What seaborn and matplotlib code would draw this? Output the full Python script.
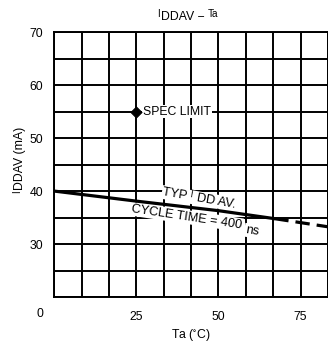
import numpy as np
import pandas as pd
import matplotlib
matplotlib.use("Agg")
import matplotlib.pyplot as plt
from matplotlib.ticker import MultipleLocator, FixedLocator
import seaborn as sns

# Typical average supply current vs ambient temperature
typ_ta = [0, 25, 50, 67]
typ_idd = [40.0, 38.1, 36.3, 34.8]
ext_ta = [67, 85]
ext_idd = [34.8, 33.1]

# Specification limit point
spec_ta = [25]
spec_idd = [55]

x_labels = [25, 50, 75]
y_labels = [30, 40, 50, 60, 70]

sns.set_theme(style="white")
plt.rcParams["font.family"] = ["Liberation Sans", "DejaVu Sans"]
plt.rcParams["mathtext.fontset"] = "custom"
plt.rcParams["mathtext.rm"] = "Liberation Sans"
plt.rcParams["text.color"] = "black"
plt.rcParams["axes.labelcolor"] = "black"

FS = 8.8
CURVE_FS = 9.2
SMALL = 7.2

fig = plt.figure(figsize=(3.28, 3.45), dpi=100)
ax = fig.add_axes([0.165, 0.139, 0.835, 0.768])

solid = pd.DataFrame({"ta": typ_ta, "idd": typ_idd})
dashed = pd.DataFrame({"ta": ext_ta, "idd": ext_idd})
spec = pd.DataFrame({"ta": spec_ta, "idd": spec_idd})

sns.lineplot(data=solid, x="ta", y="idd", ax=ax, color="black", lw=2.3, zorder=4)
sns.lineplot(data=dashed, x="ta", y="idd", ax=ax, color="black", lw=2.3,
             zorder=4)
ax.lines[-1].set_dashes([4.5, 2.2])
sns.scatterplot(data=spec, x="ta", y="idd", ax=ax, color="black", s=34,
                marker="D", edgecolor="black", zorder=5)

ax.set_xlim(0, 250 / 3)
ax.set_ylim(20, 70)

ax.xaxis.set_major_locator(FixedLocator(x_labels))
ax.xaxis.set_minor_locator(MultipleLocator(25 / 3))
ax.yaxis.set_major_locator(FixedLocator(y_labels))
ax.yaxis.set_minor_locator(MultipleLocator(5))
ax.grid(True, which="both", color="black", lw=1.4)
ax.set_axisbelow(True)
ax.tick_params(which="both", length=0, labelsize=FS, colors="black")
ax.tick_params(axis="x", pad=10)
ax.tick_params(axis="y", pad=8)
for s in ax.spines.values():
    s.set_color("black")
    s.set_linewidth(1.4)
ax.set_xlabel("")
ax.set_ylabel("")

# shared origin label at the corner
ax.annotate("0", xy=(0, 0), xycoords="axes fraction", xytext=(-14, -17),
            textcoords="offset pixels", ha="center", va="center", fontsize=FS)

# title: small raised "I", then "DDAV -", then raised "Ta"
title = ax.text(0.471, 1.058, "DDAV \u2212", transform=ax.transAxes,
                ha="center", va="center", fontsize=FS)
ax.annotate("I", xy=(0, 1), xycoords=title, xytext=(-1, 2),
            textcoords="offset pixels", ha="right", va="top", fontsize=SMALL)
ax.annotate("Ta", xy=(1, 1), xycoords=title, xytext=(3, 2),
            textcoords="offset pixels", ha="left", va="top", fontsize=SMALL)

# axis labels
ax.text(0.5, -0.145, r"Ta ($\mathregular{^{\circ}}$C)", transform=ax.transAxes,
        ha="center", va="center", fontsize=FS)
ylab = ax.text(-0.124, 0.525, "DDAV (mA)", transform=ax.transAxes,
               rotation=90, ha="center", va="center", fontsize=FS)
ax.annotate("I", xy=(0, 0), xycoords=ylab, xytext=(-2, -1),
            textcoords="offset pixels", ha="left", va="top", rotation=90,
            fontsize=SMALL)

box = dict(facecolor="white", edgecolor="none", pad=0.6)
ax.text(27.0, 55, "SPEC LIMIT", ha="left", va="center", fontsize=FS,
        bbox=box, zorder=3)

# curve annotations
ax.text(44.2, 38.6, "TYP   DD AV.", ha="center", va="center",
        fontsize=CURVE_FS, rotation=-10, bbox=box, zorder=3)
ax.text(41.5, 39.4, "I", ha="center", va="center", fontsize=SMALL,
        rotation=-10, zorder=6)
ax.text(40.4, 35.1, "CYCLE TIME = 400", ha="center", va="center",
        fontsize=CURVE_FS, rotation=-8.5, bbox=box, zorder=3)
ax.text(60.2, 32.5, "ns", ha="center", va="center", fontsize=CURVE_FS,
        rotation=-8.5, bbox=box, zorder=3)

fig.savefig("out.png", dpi=100)
